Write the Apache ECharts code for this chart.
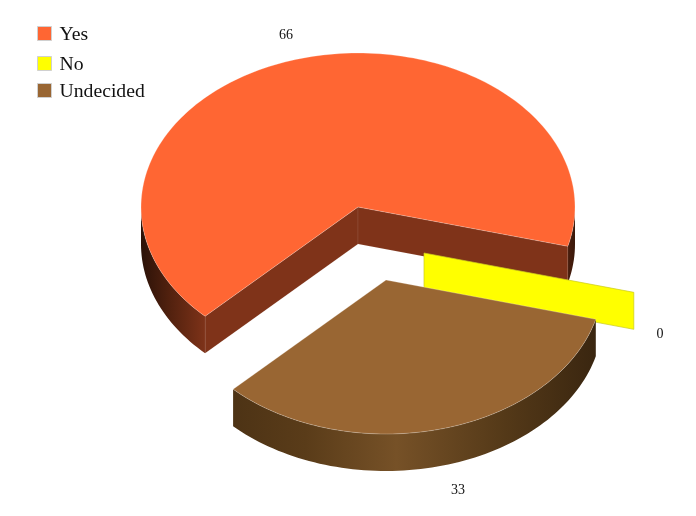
<!DOCTYPE html>
<html>
<head>
<meta charset="utf-8">
<style>html,body{margin:0;padding:0;background:#fff}#c{width:696px;height:516px}</style>
<script src="https://cdn.jsdelivr.net/npm/echarts@6/dist/echarts.min.js"></script>
</head>
<body>
<div id="c"></div>
<script>
const categories = ['Yes', 'No', 'Undecided'];
const values = [66, 0, 33];
const topColors = ['#ff6633', '#ffff00', '#996633'];

// Projection of the 3D pie
const CX = 358, CY = 207, RX = 217, RY = 154, DEPTH = 37;
const START_T = 134.8;
const explode = [[0, 0], [66, 46], [28, 73]];
const labelNudge = [[0, 1], [0, -2], [0, 0]];
const labelFont = '14px "Liberation Serif", "Times New Roman", serif';
const legendTops = [22, 52, 79];
const total = values.reduce((a, b) => a + b, 0);

function rad(d) { return d * Math.PI / 180; }
function pt(cx, cy, t, dy) {
  return [cx + RX * Math.cos(rad(t)), cy + RY * Math.sin(rad(t)) + (dy || 0)];
}
function arc(cx, cy, a, b, dy) {
  const out = [], n = Math.max(2, Math.ceil(Math.abs(b - a) / 1.5));
  for (let i = 0; i <= n; i++) out.push(pt(cx, cy, a + (b - a) * i / n, dy));
  return out;
}
function startOf(i) {
  let s = 0;
  for (let k = 0; k < i; k++) s += values[k];
  return START_T + s / total * 360;
}
// Portion of [a,b] whose outer wall faces the viewer (t in 0..180 mod 360)
function frontRanges(a, b) {
  const res = [];
  for (let k = -1; k < 3; k++) {
    const lo = Math.max(a, k * 360), hi = Math.min(b, k * 360 + 180);
    if (hi > lo) res.push([lo, hi]);
  }
  return res;
}
const wallGrad = [
  new echarts.graphic.LinearGradient(141, 0, 575, 0, [
    { offset: 0, color: '#2b1208' }, { offset: 0.07, color: '#54220f' }, { offset: 0.15, color: '#7f3319' },
    { offset: 0.5, color: '#7f3319' }, { offset: 0.95, color: '#6a2a14' }, { offset: 1, color: '#3a180a' }
  ], true),
  '#888800',
  new echarts.graphic.LinearGradient(233, 0, 596, 0, [
    { offset: 0, color: '#4d3315' }, { offset: 0.2, color: '#5a3c19' }, { offset: 0.45, color: '#765127' },
    { offset: 0.75, color: '#543918' }, { offset: 1, color: '#3a2610' }
  ], true)
];
const innerColor = '#7f3319';
const rim = 'rgba(255,255,255,0.35)';

function renderSlice(i, api) {
  const v = api.value(0);
  const cx = CX + explode[i][0], cy = CY + explode[i][1];
  const a = startOf(i), b = a + v / total * 360;
  const kids = [];
  if (v === 0) {
    // zero-value slice shows only its vertical wall
    const p = pt(cx, cy, a);
    kids.push({
      type: 'polygon',
      shape: { points: [[cx, cy], p, [p[0], p[1] + DEPTH], [cx, cy + DEPTH]] },
      style: { fill: topColors[i], stroke: '#c8c820', lineWidth: 0.7 }
    });
  } else {
    frontRanges(a, b).forEach(r => {
      const up = arc(cx, cy, r[0], r[1], 0);
      const dn = arc(cx, cy, r[1], r[0], DEPTH);
      kids.push({ type: 'polygon', shape: { points: up.concat(dn) }, style: { fill: wallGrad[i], stroke: null } });
    });
    if (v / total >= 0.5) {
      [a, b].forEach(t => {
        const p = pt(cx, cy, t);
        kids.push({
          type: 'polygon',
          shape: { points: [[cx, cy], p, [p[0], p[1] + DEPTH], [cx, cy + DEPTH]] },
          style: { fill: innerColor, stroke: 'rgba(255,255,255,0.12)', lineWidth: 0.6 }
        });
      });
    }
    kids.push({
      type: 'polygon',
      shape: { points: [[cx, cy]].concat(arc(cx, cy, a, b, 0)) },
      style: { fill: topColors[i], stroke: rim, lineWidth: 0.7 }
    });
  }
  const mid = (a + b) / 2, c = Math.cos(rad(mid)), s = Math.sin(rad(mid));
  const lx = Math.min(cx + RX * 1.266 * c, 660) + labelNudge[i][0];
  const ly = cy + RY * 1.16 * s + (s > 0 ? DEPTH + 1 : 0) + labelNudge[i][1];
  kids.push({
    type: 'text',
    style: { text: String(v), x: lx, y: ly, font: labelFont, fill: '#111', align: 'center', verticalAlign: 'middle' }
  });
  return { type: 'group', children: kids };
}

const chart = echarts.init(document.getElementById('c'), null, { renderer: 'canvas', width: 696, height: 516 });
chart.setOption({
  animation: false,
  backgroundColor: '#fff',
  legend: categories.map((name, i) => ({
    data: [name],
    orient: 'vertical',
    left: 37,
    top: legendTops[i],
    icon: 'rect',
    itemWidth: 14,
    itemHeight: 14,
    itemGap: 8,
    padding: 0,
    selectedMode: false,
    itemStyle: { borderColor: '#d0d0d0', borderWidth: 1 },
    formatter: '{t|{name}}',
    textStyle: {
      rich: {
        t: {
          fontFamily: '"Liberation Serif", "Times New Roman", serif',
          fontSize: 19.7, color: '#111', lineHeight: 22, padding: [3, 0, 0, 3]
        }
      }
    }
  })),
  series: categories.map((name, i) => ({
    type: 'custom',
    name: name,
    coordinateSystem: 'none',
    silent: true,
    itemStyle: { color: topColors[i] },
    data: [[values[i]]],
    renderItem: (params, api) => renderSlice(i, api)
  }))
});
</script>
</body>
</html>
